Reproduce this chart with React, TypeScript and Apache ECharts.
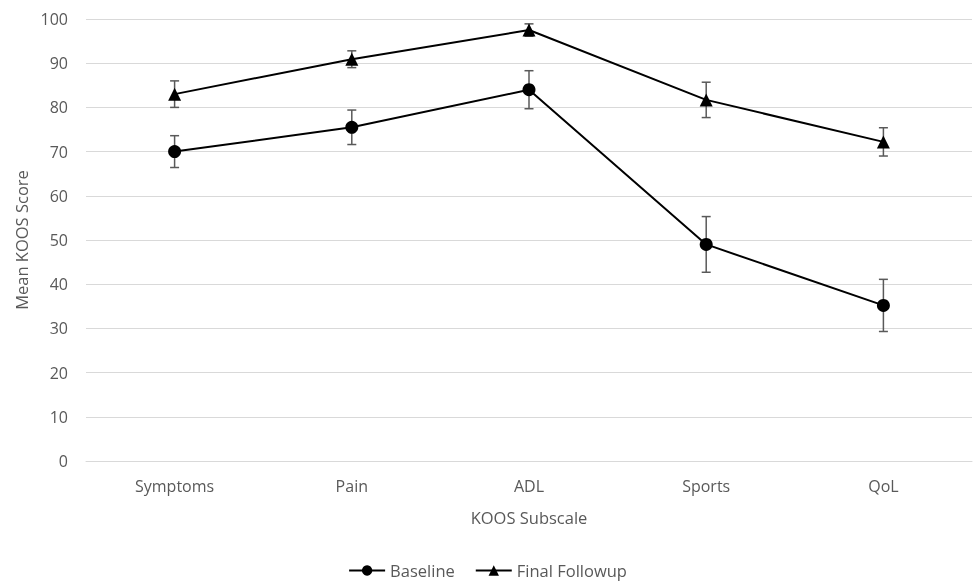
import React, { useEffect, useRef } from "react";
import * as echarts from "echarts";

const categories = ["Symptoms", "Pain", "ADL", "Sports", "QoL"];
const baselineMean = [70.0, 75.5, 84.0, 49.0, 35.2];
const baselineErr = [3.6, 3.9, 4.3, 6.3, 5.9];
const followupMean = [83.0, 90.9, 97.5, 81.7, 72.2];
const followupErr = [3.0, 1.9, 1.4, 4.0, 3.2];
const yTicks = { min: 0, max: 100, interval: 10 };

const FONT = "'Open Sans', 'Noto Sans', sans-serif";
const GREY = "#595959";

function errorSeries(name: string, means: number[], errs: number[]) {
  const data = means.map((m, i) => [i, m - errs[i], m + errs[i]]);
  return {
    type: "custom",
    name: name + "-err",
    z: 1,
    silent: true,
    data,
    encode: { x: 0, y: [1, 2] },
    renderItem: (params: any, api: any) => {
      const x = api.value(0);
      const lo = api.coord([x, api.value(1)]);
      const hi = api.coord([x, api.value(2)]);
      const hw = 4.5;
      const style = { stroke: GREY, lineWidth: 1.5 };
      return {
        type: "group",
        children: [
          { type: "line", shape: { x1: lo[0], y1: lo[1], x2: hi[0], y2: hi[1] }, style },
          { type: "line", shape: { x1: lo[0] - hw, y1: lo[1], x2: lo[0] + hw, y2: lo[1] }, style },
          { type: "line", shape: { x1: hi[0] - hw, y1: hi[1], x2: hi[0] + hw, y2: hi[1] }, style },
        ],
      };
    },
  };
}

export default function App() {
  const ref = useRef<HTMLDivElement>(null);
  useEffect(() => {
    if (!ref.current) return;
    const chart = echarts.init(ref.current, null, { renderer: "svg" });
    chart.setOption({
      animation: false,
      textStyle: { fontFamily: FONT },
      grid: { left: 86, right: 3, top: 19, bottom: 123 },
      legend: {
        top: 557,
        left: "center",
        itemWidth: 36,
        itemHeight: 13,
        itemGap: 20,
        data: ["Baseline", "Final Followup"],
        textStyle: { color: GREY, fontSize: 16.5, fontFamily: FONT },
      },
      xAxis: {
        type: "category",
        data: categories,
        name: "KOOS Subscale",
        nameLocation: "middle",
        nameGap: 48,
        nameTextStyle: { color: GREY, fontSize: 16.5, fontFamily: FONT },
        axisLine: { lineStyle: { color: "#d9d9d9", width: 1 } },
        axisTick: { show: false },
        axisLabel: { color: GREY, fontSize: 16, margin: 17, fontFamily: FONT },
      },
      yAxis: {
        type: "value",
        min: yTicks.min,
        max: yTicks.max,
        interval: yTicks.interval,
        name: "Mean KOOS Score",
        nameLocation: "middle",
        nameGap: 56,
        nameTextStyle: { color: GREY, fontSize: 16.5, fontFamily: FONT },
        axisLine: { show: false },
        axisTick: { show: false },
        axisLabel: { color: GREY, fontSize: 16, margin: 18, fontFamily: FONT },
        splitLine: { lineStyle: { color: "#d9d9d9", width: 1 } },
      },
      series: [
        errorSeries("Baseline", baselineMean, baselineErr),
        errorSeries("Final Followup", followupMean, followupErr),
        {
          type: "line",
          name: "Baseline",
          data: baselineMean,
          z: 3,
          symbol: "circle",
          symbolSize: 13,
          lineStyle: { color: "#000", width: 2 },
          itemStyle: { color: "#000" },
        },
        {
          type: "line",
          name: "Final Followup",
          data: followupMean,
          z: 3,
          symbol: "triangle",
          symbolSize: 13,
          lineStyle: { color: "#000", width: 2 },
          itemStyle: { color: "#000" },
        },
      ],
    });
    return () => chart.dispose();
  }, []);
  return (
    <div
      ref={ref}
      style={{ position: "fixed", left: 0, top: 0, width: 975, height: 584 }}
    />
  );
}
